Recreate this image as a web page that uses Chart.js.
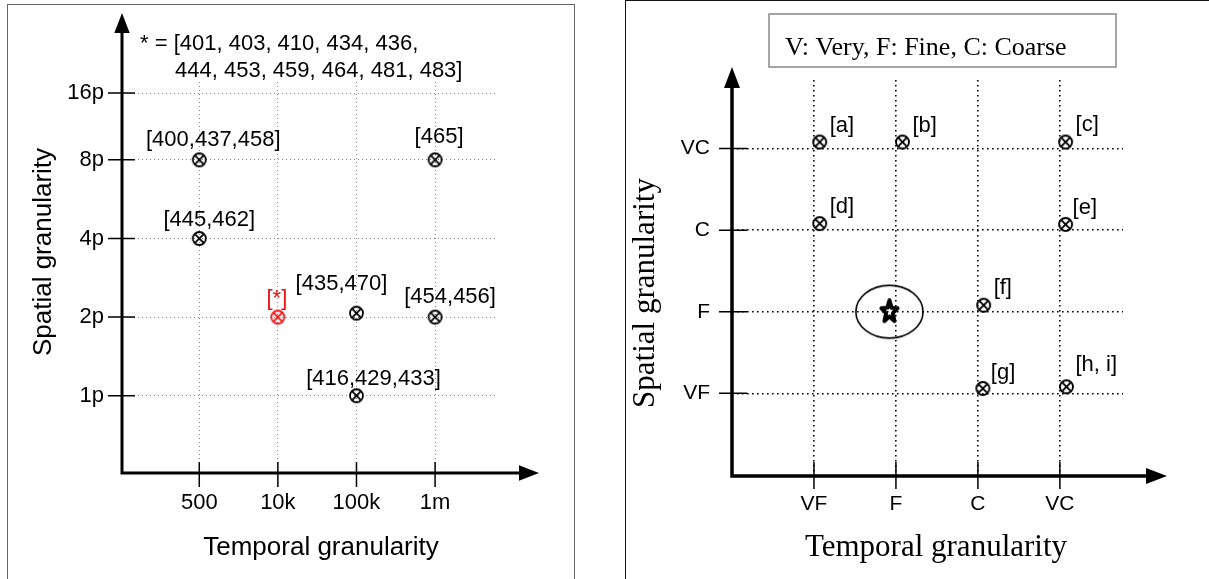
<!DOCTYPE html>
<html>
<head>
<meta charset="utf-8">
<title>Granularity charts</title>
<script src="https://cdn.jsdelivr.net/npm/chart.js@4.4.1/dist/chart.umd.min.js"></script>
<style>
  html, body { margin: 0; padding: 0; background: #fff; }
  body { width: 1209px; height: 579px; position: relative; overflow: hidden; }
  .panel { position: absolute; box-sizing: border-box; }
  #leftPanel { left: 7px; top: 4px; width: 568px; height: 600px; border: 1.5px solid #666; }
  #rightPanel { left: 625px; top: 0px; width: 620px; height: 600px; border: 1.5px solid #111; }
  canvas { position: absolute; top: 0; }
  #leftCanvas { left: 0; }
  #rightCanvas { left: 610px; }
</style>
</head>
<body>
<div class="panel" id="leftPanel"></div>
<div class="panel" id="rightPanel"></div>
<canvas id="leftCanvas" width="590" height="579"></canvas>
<canvas id="rightCanvas" width="599" height="579"></canvas>
<script>
// left panel: surveyed studies by temporal / spatial granularity
const timeTicks = [0, 1, 2, 3];
const timeLabels = ['500', '10k', '100k', '1m'];
const spaceTicks = [0, 1, 2, 3, 3.85];
const spaceLabels = ['1p', '2p', '4p', '8p', '16p'];
const studyX = [0, 3, 0, 2, 3, 2];
const studyY = [3, 3, 2, 1.05, 1, 0];
const studyRefs = ['[400,437,458]', '[465]', '[445,462]', '[435,470]', '[454,456]', '[416,429,433]'];
const starX = [1];
const starY = [1];
const starRefs = ['[*]'];
const starList = ['* = [401, 403, 410, 434, 436,', '444, 453, 459, 464, 481, 483]'];

// right panel: related work, qualitative levels
const granTicks = [1, 2, 3, 4];
const granLabels = ['VF', 'F', 'C', 'VC'];
const workX = [1.07, 2.08, 4.07, 1.07, 4.07, 3.07, 3.06, 4.08];
const workY = [4.08, 4.08, 4.08, 3.08, 3.07, 2.08, 1.06, 1.08];
const workRefs = ['[a]', '[b]', '[c]', '[d]', '[e]', '[f]', '[g]', '[h, i]'];
const oursX = [1.92];
const oursY = [2.0];
const legendText = 'V: Very, F: Fine, C: Coarse';

const SANS = '"Liberation Sans", Arial, sans-serif';
const SERIF = '"Liberation Serif", "Times New Roman", serif';

// label offsets (px) from each marker
const studyOffsets = [[14, -20], [4, -23], [10, -19], [-15, -29], [15, -20], [17, -17]];
const starOffsets = [[-1, -18]];
const workOffsets = [[10, -16], [10, -16], [10, -17], [10, -17], [7, -16], [10, -17], [8, -16], [9, -22]];

function toPoints(xs, ys) {
    return xs.map((x, i) => ({ x: x, y: ys[i] }));
}

// circle with a cross inside
function otimes(r, color, lw) {
    const s = Math.ceil(2 * r + lw + 2);
    const c = document.createElement('canvas');
    c.width = s; c.height = s;
    const g = c.getContext('2d');
    const m = s / 2;
    g.strokeStyle = color;
    g.lineWidth = lw;
    g.beginPath();
    g.arc(m, m, r, 0, Math.PI * 2);
    g.stroke();
    const d = r * Math.SQRT1_2;
    g.beginPath();
    g.moveTo(m - d, m - d); g.lineTo(m + d, m + d);
    g.moveTo(m + d, m - d); g.lineTo(m - d, m + d);
    g.stroke();
    return c;
}

function starMark(rx, ry, lw) {
    const w = Math.ceil(2 * rx + lw + 4), h = Math.ceil(2 * ry + lw + 4);
    const c = document.createElement('canvas');
    c.width = w; c.height = h;
    const g = c.getContext('2d');
    g.strokeStyle = '#000';
    g.lineWidth = lw;
    g.lineJoin = 'round';
    g.beginPath();
    for (let k = 0; k < 10; k++) {
        const a = -Math.PI / 2 + k * Math.PI / 5;
        const f = k % 2 === 0 ? 1 : 0.42;
        const px = w / 2 + Math.cos(a) * rx * f;
        const py = h / 2 + Math.sin(a) * ry * f;
        if (k === 0) g.moveTo(px, py); else g.lineTo(px, py);
    }
    g.closePath();
    g.stroke();
    return c;
}

function ellipseMark(rx, ry, lw) {
    const w = Math.ceil(2 * rx + lw + 2), h = Math.ceil(2 * ry + lw + 2);
    const c = document.createElement('canvas');
    c.width = w; c.height = h;
    const g = c.getContext('2d');
    g.strokeStyle = '#000';
    g.lineWidth = lw;
    g.beginPath();
    g.ellipse(w / 2, h / 2, rx, ry, 0, 0, Math.PI * 2);
    g.stroke();
    return c;
}

function makeAxis(min, max, tickVals, tickText, opts) {
    return {
        type: 'linear',
        min: min,
        max: max,
        afterBuildTicks: s => { s.ticks = tickVals.map(v => ({ value: v })); },
        afterFit: s => { if (s.isHorizontal()) s.height = 80; else s.width = 100; },
        ticks: {
            callback: (v, i) => tickText[i],
            padding: opts.pad,
            font: { family: SANS, size: opts.size },
            color: '#000',
            autoSkip: false,
            maxRotation: 0,
            minRotation: 0
        },
        grid: { color: opts.gridColor, lineWidth: opts.gridWidth, drawTicks: false },
        border: { display: false, dash: opts.dash }
    };
}

function drawAxes(ctx, ox, oy, tipY, tipX, lw, half, head) {
    ctx.lineWidth = lw;
    ctx.beginPath();
    ctx.moveTo(ox, oy + lw / 2); ctx.lineTo(ox, tipY + head);
    ctx.moveTo(ox - lw / 2, oy); ctx.lineTo(tipX - head, oy);
    ctx.stroke();
    ctx.beginPath();
    ctx.moveTo(ox, tipY); ctx.lineTo(ox - half, tipY + head); ctx.lineTo(ox + half, tipY + head); ctx.closePath();
    ctx.moveTo(tipX, oy); ctx.lineTo(tipX - head, oy - half); ctx.lineTo(tipX - head, oy + half); ctx.closePath();
    ctx.fill();
}

function drawRefs(ctx, meta, refs, offs, align, color) {
    ctx.textAlign = align;
    ctx.textBaseline = 'middle';
    ctx.fillStyle = color;
    meta.data.forEach((pt, i) => ctx.fillText(refs[i], pt.x + offs[i][0], pt.y + offs[i][1]));
}

const leftDecor = {
    id: 'leftDecor',
    afterDraw(chart) {
        const { ctx, chartArea: a, scales: { x, y } } = chart;
        ctx.save();
        ctx.strokeStyle = '#000';
        ctx.fillStyle = '#000';
        ctx.lineWidth = 1.5;
        ctx.beginPath();
        timeTicks.forEach(v => {
            const p = x.getPixelForValue(v);
            ctx.moveTo(p, a.bottom - 11); ctx.lineTo(p, a.bottom + 14);
        });
        spaceTicks.forEach(v => {
            const p = y.getPixelForValue(v);
            ctx.moveTo(a.left - 14, p); ctx.lineTo(a.left + 13, p);
        });
        ctx.stroke();
        drawAxes(ctx, a.left, a.bottom, a.top - 69, a.right + 43, 3, 7.7, 20);

        ctx.font = '22px ' + SANS;
        drawRefs(ctx, chart.getDatasetMeta(0), studyRefs, studyOffsets, 'center', '#000');
        drawRefs(ctx, chart.getDatasetMeta(1), starRefs, starOffsets, 'center', '#ee1111');

        ctx.fillStyle = '#000';
        ctx.textAlign = 'left';
        ctx.textBaseline = 'middle';
        ctx.fillText(starList[0], 140, 44);
        ctx.fillText(starList[1], 175, 71);

        ctx.font = '26px ' + SANS;
        ctx.textAlign = 'center';
        ctx.textBaseline = 'alphabetic';
        ctx.fillText('Temporal granularity', 321, 555);
        ctx.translate(51, 252);
        ctx.rotate(-Math.PI / 2);
        ctx.fillText('Spatial granularity', 0, 0);
        ctx.restore();
    }
};

const rightDecor = {
    id: 'rightDecor',
    afterDraw(chart) {
        const { ctx, chartArea: a, scales: { x, y } } = chart;
        ctx.save();
        ctx.strokeStyle = '#000';
        ctx.fillStyle = '#000';
        ctx.lineWidth = 1.5;
        ctx.beginPath();
        granTicks.forEach(v => {
            const p = x.getPixelForValue(v);
            ctx.moveTo(p, a.bottom - 14); ctx.lineTo(p, a.bottom + 13);
        });
        granTicks.forEach(v => {
            const p = y.getPixelForValue(v);
            ctx.moveTo(a.left - 13, p); ctx.lineTo(a.left + 15, p);
        });
        ctx.stroke();
        drawAxes(ctx, a.left, a.bottom, a.top - 13, a.right + 44, 3.5, 8, 21);

        ctx.font = '22px ' + SANS;
        drawRefs(ctx, chart.getDatasetMeta(0), workRefs, workOffsets, 'left', '#000');

        // key box
        ctx.strokeStyle = '#888';
        ctx.lineWidth = 1.5;
        ctx.strokeRect(159, 14, 347, 53);
        ctx.fillStyle = '#000';
        ctx.font = '26px ' + SERIF;
        ctx.textAlign = 'left';
        ctx.textBaseline = 'alphabetic';
        ctx.fillText(legendText, 175, 55);

        ctx.font = '31px ' + SERIF;
        ctx.textAlign = 'center';
        ctx.fillText('Temporal granularity', 326, 556);
        ctx.translate(43.5, 293);
        ctx.rotate(-Math.PI / 2);
        ctx.fillText('Spatial granularity', 0, 0);
        ctx.restore();
    }
};

new Chart(document.getElementById('leftCanvas'), {
    type: 'scatter',
    data: {
        datasets: [
            { label: 'studies', data: toPoints(studyX, studyY), pointStyle: otimes(6.5, '#000', 1.8), pointRadius: 7 },
            { label: 'starred', data: toPoints(starX, starY), pointStyle: otimes(6.5, '#ee1111', 1.8), pointRadius: 7 }
        ]
    },
    options: {
        responsive: false,
        animation: false,
        events: [],
        layout: { autoPadding: false, padding: { left: 22, top: 82, right: 94, bottom: 26 } },
        plugins: { legend: { display: false }, tooltip: { enabled: false } },
        scales: {
            x: makeAxis(-0.983, 3.775, timeTicks, timeLabels, { pad: 17, size: 22, gridColor: '#8a8a8a', gridWidth: 1, dash: [1, 3] }),
            y: makeAxis(-0.983, 3.99, spaceTicks, spaceLabels, { pad: 18, size: 22, gridColor: '#8a8a8a', gridWidth: 1, dash: [1, 3] })
        }
    },
    plugins: [leftDecor]
});

new Chart(document.getElementById('rightCanvas'), {
    type: 'scatter',
    data: {
        datasets: [
            { label: 'related work', data: toPoints(workX, workY), pointStyle: otimes(6.5, '#000', 1.9), pointRadius: 7 },
            { label: 'this work', data: toPoints(oursX, oursY), pointStyle: starMark(8.5, 11.5, 4), pointRadius: 10 },
            { label: 'focus', data: toPoints(oursX, oursY), pointStyle: ellipseMark(33.6, 26.4, 1.6), pointRadius: 30 }
        ]
    },
    options: {
        responsive: false,
        animation: false,
        events: [],
        layout: { autoPadding: false, padding: { left: 22, top: 80, right: 86, bottom: 23 } },
        plugins: { legend: { display: false }, tooltip: { enabled: false } },
        scales: {
            x: makeAxis(0, 4.77, granTicks, granLabels, { pad: 16, size: 21, gridColor: '#000', gridWidth: 1.6, dash: [1.6, 3.4] }),
            y: makeAxis(-0.013, 4.84, granTicks, granLabels, { pad: 22, size: 21, gridColor: '#000', gridWidth: 1.6, dash: [1.6, 3.4] })
        }
    },
    plugins: [rightDecor]
});
</script>
</body>
</html>
